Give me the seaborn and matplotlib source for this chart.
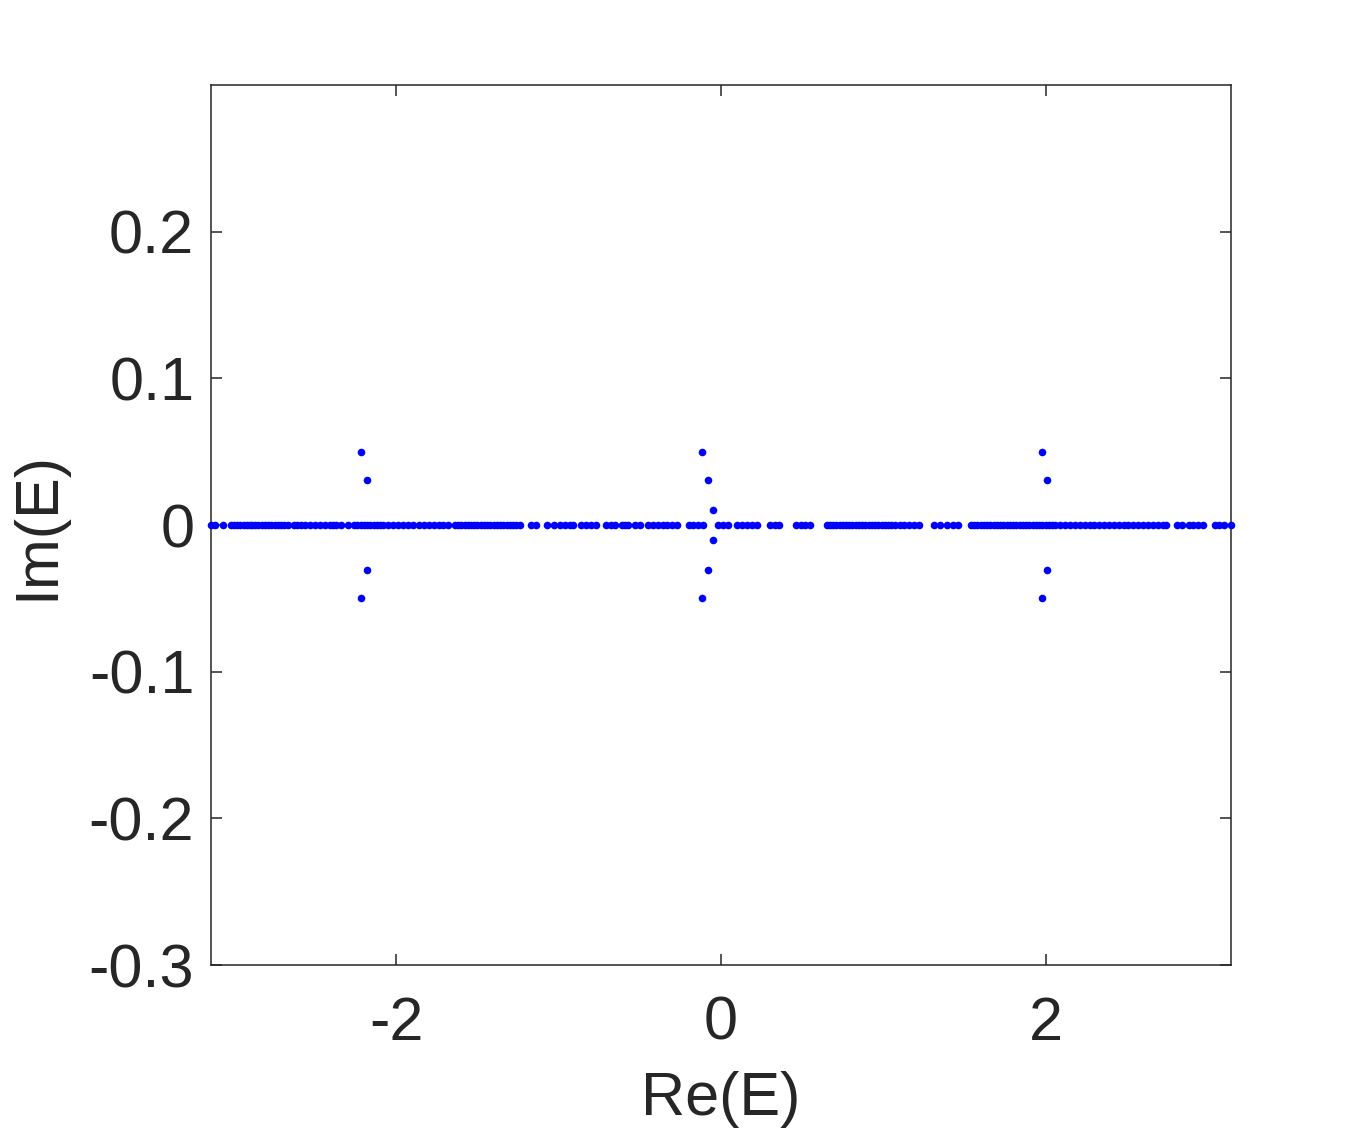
import matplotlib
matplotlib.use("Agg")
import matplotlib.pyplot as plt
import seaborn as sns
import pandas as pd
import numpy as np

# Eigenvalues lying on the real axis (Re(E))
re_axis = [
    -3.14, -3.12, -3.07,
    -3.02, -3.00, -2.98, -2.96, -2.94, -2.92, -2.90, -2.89,
    -2.87, -2.85, -2.83, -2.81, -2.79, -2.77, -2.75, -2.73, -2.71, -2.69, -2.67,
    -2.63, -2.61,
    -2.59, -2.56, -2.53, -2.50, -2.47, -2.44, -2.41, -2.39, -2.37,
    -2.34, -2.30,
    -2.26, -2.24, -2.22, -2.20, -2.18, -2.16, -2.14, -2.12, -2.10, -2.08,
    -2.05, -2.02, -1.99, -1.96, -1.93, -1.90,
    -1.86, -1.83, -1.80, -1.77, -1.74,
    -1.71, -1.68,
    -1.64, -1.62, -1.60, -1.58, -1.56, -1.54, -1.52, -1.50, -1.48, -1.46, -1.44,
    -1.42, -1.40, -1.38, -1.36, -1.34, -1.32, -1.30, -1.28, -1.26, -1.24,
    -1.17, -1.14,
    -1.07, -1.03, -0.99, -0.96, -0.93, -0.91,
    -0.86, -0.83, -0.80, -0.77,
    -0.71, -0.68, -0.65, -0.61, -0.59, -0.57, -0.53, -0.50,
    -0.45, -0.42, -0.39, -0.36, -0.33, -0.30, -0.27,
    -0.20, -0.17, -0.14, -0.11,
    -0.02, 0.01, 0.045,
    0.10, 0.13, 0.16, 0.19, 0.22,
    0.30, 0.33, 0.36,
    0.46, 0.49, 0.52, 0.55,
    0.65, 0.67, 0.69, 0.71, 0.73, 0.75, 0.77, 0.79, 0.81, 0.83, 0.85, 0.87,
    0.89, 0.91, 0.93, 0.95, 0.97, 0.99, 1.01, 1.03, 1.05,
    1.07, 1.10, 1.13, 1.16, 1.19, 1.22,
    1.31, 1.35, 1.39, 1.43, 1.46,
    1.54, 1.56, 1.58, 1.60, 1.62, 1.64, 1.66, 1.68, 1.70, 1.72, 1.74, 1.76,
    1.78, 1.80, 1.82, 1.84, 1.86, 1.88, 1.90, 1.92, 1.94, 1.96, 1.98, 2.00,
    2.02, 2.04, 2.06,
    2.09, 2.12, 2.15, 2.18, 2.21, 2.24, 2.27, 2.30, 2.33,
    2.36, 2.39, 2.42, 2.45, 2.48,
    2.51, 2.54, 2.57, 2.60, 2.63, 2.66, 2.69, 2.72, 2.74,
    2.81, 2.84, 2.88, 2.91, 2.94, 2.97,
    3.04, 3.07, 3.10, 3.14,
]

# Complex eigenvalues off the real axis
re_complex = [-2.22, -2.18, -2.18, -2.22,
              -0.12, -0.08, -0.05, -0.05, -0.08, -0.12,
              1.975, 2.01, 2.01, 1.975]
im_complex = [0.050, 0.031, -0.031, -0.050,
              0.050, 0.031, 0.010, -0.010, -0.031, -0.050,
              0.050, 0.031, -0.031, -0.050]

x_ticks = [-2, 0, 2]
x_tick_labels = ["-2", "0", "2"]
y_ticks = [-0.3, -0.2, -0.1, 0, 0.1, 0.2]
y_tick_labels = ["-0.3", "-0.2", "-0.1", "0", "0.1", "0.2"]

df = pd.DataFrame({
    "re": list(re_axis) + list(re_complex),
    "im": [0.0] * len(re_axis) + list(im_complex),
})

sns.set_theme(style="white")
plt.rcParams["font.family"] = ["Liberation Sans", "DejaVu Sans"]

TXT = "#262626"
fig = plt.figure(figsize=(13.6, 11.34), dpi=100)
ax = fig.add_axes([211 / 1360, (1134 - 965) / 1134, 1020 / 1360, 880 / 1134])

sns.scatterplot(data=df, x="re", y="im", ax=ax, color="#0000ff",
                s=30, linewidth=0, legend=False, zorder=3, clip_on=False)

ax.set_xlim(-np.pi, np.pi)
ax.set_ylim(-0.3, 0.3)
ax.set_xticks(x_ticks)
ax.set_xticklabels(x_tick_labels)
ax.set_yticks(y_ticks)
ax.set_yticklabels(y_tick_labels)

for sp in ax.spines.values():
    sp.set_visible(True)
    sp.set_color(TXT)
    sp.set_linewidth(1.1)

ax.tick_params(axis="both", which="both", direction="in", length=8, width=1.1,
               color=TXT, labelcolor=TXT, labelsize=44,
               top=True, right=True, bottom=True, left=True)
ax.tick_params(axis="x", pad=22)
ax.tick_params(axis="y", pad=12)

ax.set_xlabel("Re(E)", fontsize=44, color=TXT, labelpad=13)
ax.set_ylabel("Im(E)", fontsize=44, color=TXT, labelpad=16)
ax.grid(False)

fig.savefig("out.png", dpi=100, facecolor="white")
